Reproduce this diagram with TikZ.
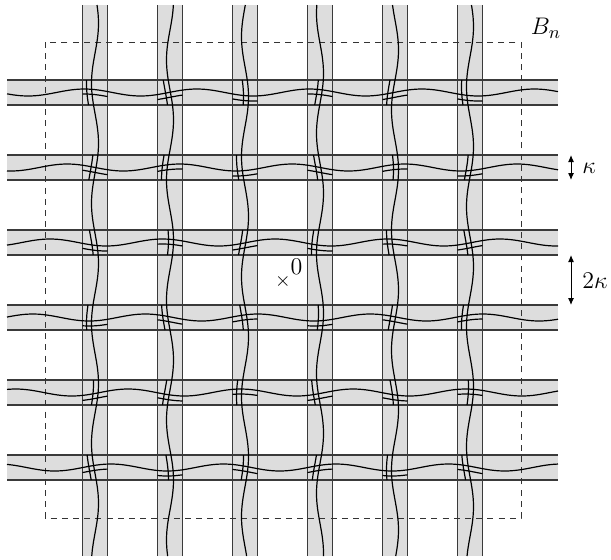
\documentclass[tikz,border=0pt]{standalone}
\usetikzlibrary{arrows.meta}
\definecolor{cfill}{HTML}{DDDDDD}
\definecolor{cedge}{HTML}{3A3A3A}
\tikzset{
  stripfill/.style={fill=cfill},
  stripedge/.style={draw=cedge, line width=0.65pt},
  wave/.style={draw=black, line width=0.6pt},
  boxline/.style={draw=black!80, line width=0.5pt, dash pattern=on 3pt off 2.6pt},
  gaparrow/.style={{Latex[length=3.5pt,width=3pt]}-{Latex[length=3.5pt,width=3pt]}, line width=0.5pt},
  lbl/.style={font=\fontsize{13}{15}\selectfont, inner sep=1pt},
}

\begin{document}
\begin{tikzpicture}[x=0.5pt, y=-0.5pt]
  \useasboundingbox (0,0) rectangle (611,559);
  % ---- grey strips, horizontal and vertical ----
  \foreach \k in {0,...,5} {
    \fill[stripfill] (7,{80+75*\k}) rectangle (558,{105+75*\k});
    \fill[stripfill] ({82.5+75*\k},5) rectangle ({107.5+75*\k},556);
  }
  \foreach \k in {0,...,5} {
    \draw[stripedge] (7,{80+75*\k}) -- (558,{80+75*\k}) (7,{105+75*\k}) -- (558,{105+75*\k});
    \draw[stripedge] ({82.5+75*\k},5) -- ({82.5+75*\k},556) ({107.5+75*\k},5) -- ({107.5+75*\k},556);
  }
  % ---- the box B_n ----
  \draw[boxline] (45,42) rectangle (521,518);
  \node[lbl] (bn) at (546,28) {$B_n$};
  % ---- wavy paths along the strips ----
  \foreach \k in {0,...,5} {
    \draw[wave] plot[domain=7:558, samples=90, smooth] (\x, {92.5+75*\k + 3.5*sin(3.2*\x + 55*\k)});
    \draw[wave] plot[domain=5:556, samples=90, smooth] ({95+75*\k + 3.5*sin(3.0*\x + 70*\k + 20)}, \x);
  }
  % second short paths inside each crossing
  \foreach \i in {0,...,5} {
    \foreach \j [evaluate=\j as \xl using 82.5+75*\j, evaluate=\j as \xr using 107.5+75*\j,
                 evaluate=\i as \yt using 80+75*\i, evaluate=\i as \yb using 105+75*\i] in {0,...,5} {
      \draw[wave] plot[domain=\xl:\xr, samples=6, smooth] (\x, {92.5+75*\i + 3.5*sin(3.2*\x + 55*\i) + 5});
      \draw[wave] plot[domain=\yt:\yb, samples=6, smooth] ({95+75*\j + 3.5*sin(3.0*\x + 70*\j + 20) - 5}, \x);
    }
  }
  % ---- origin ----
  \node[inner sep=0pt, font=\normalsize] (orig) at (283,281) {$\times$};
  \node[lbl, anchor=south west, inner sep=0.5pt] (zero) at ([xshift=-1pt,yshift=-1pt]orig.north east) {$0$};
  % ---- widths ----
  \coordinate (ka) at (571,155);
  \coordinate (kb) at (571,180);
  \draw[gaparrow] (ka) -- (kb);
  \node[lbl, anchor=west] (kap) at (580,168) {$\kappa$};
  \coordinate (wa) at (571,255);
  \coordinate (wb) at (571,305);
  \draw[gaparrow] (wa) -- (wb);
  \node[lbl, anchor=west] (twokap) at (580,281) {$2\kappa$};
\end{tikzpicture}
\end{document}
